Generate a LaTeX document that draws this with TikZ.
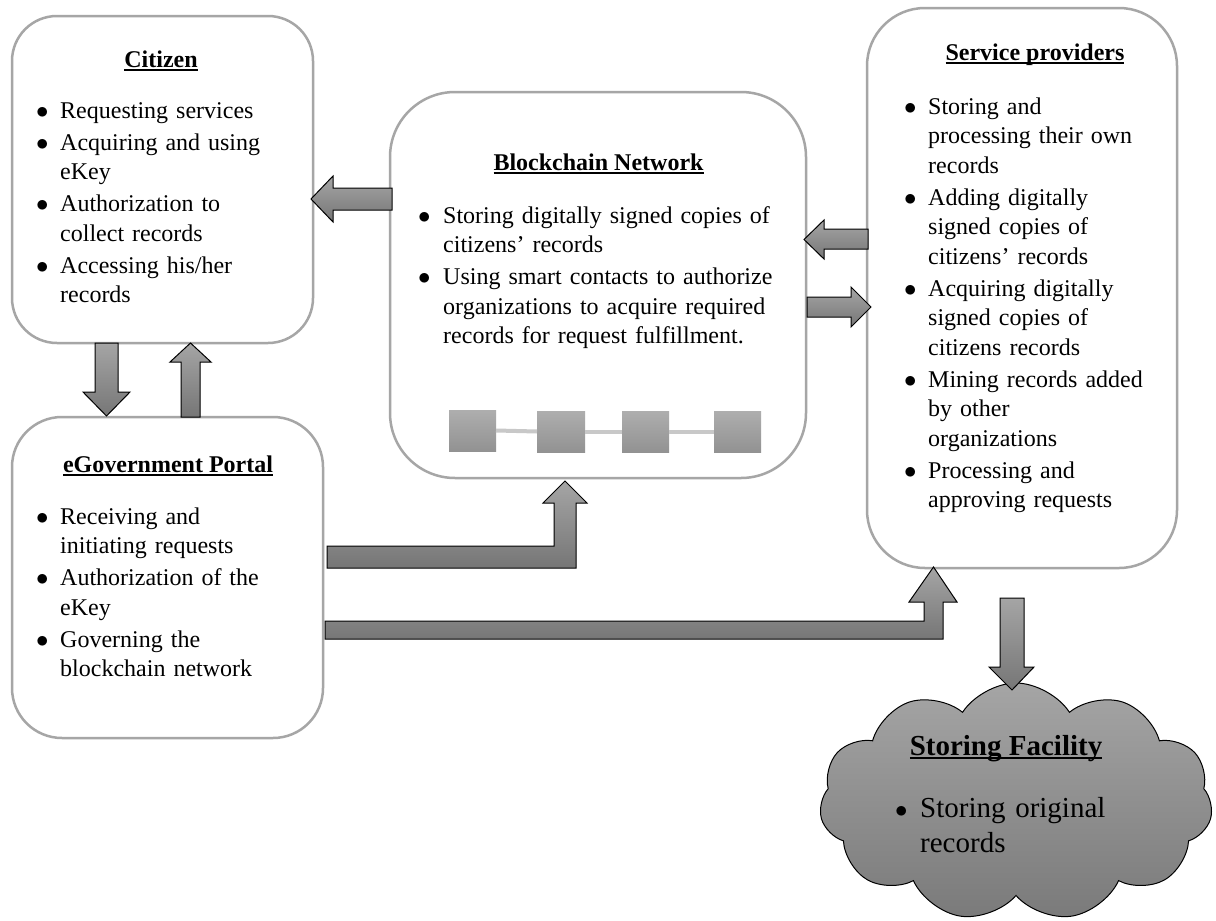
\documentclass[tikz,border=0pt]{standalone}
\usepackage{fontspec}
\setmainfont{Liberation Serif}
\usetikzlibrary{shapes.symbols,calc}
\definecolor{boxline}{RGB}{166,166,166}
\definecolor{arrtop}{RGB}{165,165,165}
\definecolor{arrbot}{RGB}{118,118,118}
\definecolor{sqtop}{RGB}{174,174,174}
\definecolor{sqbot}{RGB}{146,146,146}
\definecolor{chainln}{RGB}{200,200,200}
\definecolor{cldtop}{RGB}{165,165,165}
\definecolor{cldbot}{RGB}{122,122,122}
\newlength{\bw}
\newcommand{\bitem}[1]{\hangindent=\bw\hangafter=1\noindent\makebox[\bw][l]{$\bullet$}#1\par}
\newcommand{\isep}{\vspace{2.5pt}}
\newcommand{\ulbf}[1]{\sbox0{\textbf{#1}}\rlap{\rule[-4pt]{\wd0}{1.8pt}}\usebox0}
\tikzset{
  rbox/.style={draw=boxline, line width=2.5pt, fill=white, inner sep=0pt, outer sep=0pt},
  barrow/.style={draw=black, line width=1pt, top color=arrtop, bottom color=arrbot},
  ttl/.style={anchor=base, inner sep=0pt, font=\fontsize{24}{29.5}\selectfont},
  lst/.style={anchor=base west, inner sep=0pt, text width=340pt, align=left, font=\fontsize{24}{29.5}\selectfont},
  blk/.style={inner sep=0pt, outer sep=0pt, top color=sqtop, bottom color=sqbot, draw=none},
  chain/.style={draw=chainln, line width=4pt}
}
\begin{document}
\begin{tikzpicture}[x=1pt,y=-1pt]
\useasboundingbox[fill=white] (0,0) rectangle (1216,921);

% boxes
\node[rbox, minimum width=301, minimum height=327, rounded corners=45] (cit) at (162.5,179.5) {};
\node[rbox, minimum width=416, minimum height=386, rounded corners=65] (bc) at (598,285) {};
\node[rbox, minimum width=310, minimum height=560, rounded corners=58] (sp) at (1022,288) {};
\node[rbox, minimum width=311, minimum height=321, rounded corners=50] (eg) at (167.5,577.5) {};

% citizen text
\node[ttl] (citt) at (161,67) {\ulbf{Citizen}};
\node[lst] (citl) at (36,118) {\setlength{\bw}{24pt}\setlength{\parindent}{0pt}%
\bitem{Requesting services}\isep
\bitem{Acquiring and using\newline eKey}\isep
\bitem{Authorization to\newline collect records}\isep
\bitem{Accessing his/her\newline records}};

% blockchain text
\node[ttl] (bct) at (598.5,170) {\ulbf{Blockchain Network}};
\node[lst, text width=400pt] (bcl) at (418,223) {\setlength{\bw}{25pt}\setlength{\parindent}{0pt}%
\bitem{Storing digitally signed copies of\newline citizens’ records}\isep
\bitem{Using smart contacts to authorize\newline organizations to acquire required\newline records for request fulfillment.}};

% service providers text
\node[ttl] (spt) at (1035,60) {\ulbf{Service providers}};
\node[lst] (spl) at (904,114) {\setlength{\bw}{24pt}\setlength{\parindent}{0pt}%
\bitem{Storing and\newline processing their own\newline records}\isep
\bitem{Adding digitally\newline signed copies of\newline citizens’ records}\isep
\bitem{Acquiring digitally\newline signed copies of\newline citizens records}\isep
\bitem{Mining records added\newline by other\newline organizations}\isep
\bitem{Processing and\newline approving requests}};

% eGovernment text
\node[ttl] (egt) at (168,472) {\ulbf{eGovernment Portal}};
\node[lst] (egl) at (36,524) {\setlength{\bw}{24pt}\setlength{\parindent}{0pt}%
\bitem{Receiving and\newline initiating requests}\isep
\bitem{Authorization of the\newline eKey}\isep
\bitem{Governing the\newline blockchain network}};

% blockchain blocks
\node[blk, minimum width=47, minimum height=41] (b1) at (472.5,430.5) {};
\node[blk, minimum width=48, minimum height=41] (b2) at (561,431.5) {};
\node[blk, minimum width=47, minimum height=41] (b3) at (645.5,431.5) {};
\node[blk, minimum width=47, minimum height=41] (b4) at (737.5,431.5) {};
\draw[chain] (b1.east) -- (b2.west);
\draw[chain] (b2.east) -- (b3.west);
\draw[chain] (b3.east) -- (b4.west);

% storing facility cloud
\node[cloud, cloud puffs=11, cloud puff arc=115, aspect=1.65, minimum width=393, minimum height=238,
      draw=black, line width=1pt, top color=cldtop, bottom color=cldbot, inner sep=0pt] (sf) at (1016,802) {};
\node[anchor=base, inner sep=0pt, font=\fontsize{29}{35}\selectfont] (sft) at (1006,755) {\ulbf{Storing Facility}};
\node[anchor=base west, inner sep=0pt, text width=300pt, align=left, font=\fontsize{29}{35}\selectfont] (sfl) at (895,817) {\setlength{\bw}{25pt}\setlength{\parindent}{0pt}%
\bitem{Storing original\newline records}};

% block arrows
% blockchain -> citizen
\draw[barrow] (392,188) -- (333,188) -- (333,176) -- (311,199) -- (333,222) -- (333,210) -- (392,210) -- cycle;
% service providers -> blockchain
\draw[barrow] (868,229) -- (824,229) -- (824,220) -- (804,239.5) -- (824,259) -- (824,249) -- (868,249) -- cycle;
% blockchain -> service providers
\draw[barrow] (807,297) -- (851,297) -- (851,287) -- (871,307) -- (851,327) -- (851,317) -- (807,317) -- cycle;
% citizen -> eGov
\draw[barrow] (95,343) -- (118,343) -- (118,392) -- (130,392) -- (106.5,416) -- (83,392) -- (95,392) -- cycle;
% eGov -> citizen
\draw[barrow] (181,417) -- (181,362) -- (170,362) -- (190.5,343) -- (211,362) -- (200,362) -- (200,417) -- cycle;
% eGov -> blockchain (bent)
\draw[barrow] (327,546) -- (554,546) -- (554,503) -- (543,503) -- (565,481) -- (587,503) -- (576,503) -- (576,568) -- (327,568) -- cycle;
% eGov -> service providers (bent)
\draw[barrow] (325,621) -- (924,621) -- (924,602) -- (909,602) -- (933.5,567) -- (957,602) -- (943,602) -- (943,639) -- (325,639) -- cycle;
% service providers -> storing facility
\draw[barrow] (1000,598) -- (1024,598) -- (1024,667) -- (1034,667) -- (1012,690) -- (989,667) -- (1000,667) -- cycle;
\end{tikzpicture}
\end{document}
